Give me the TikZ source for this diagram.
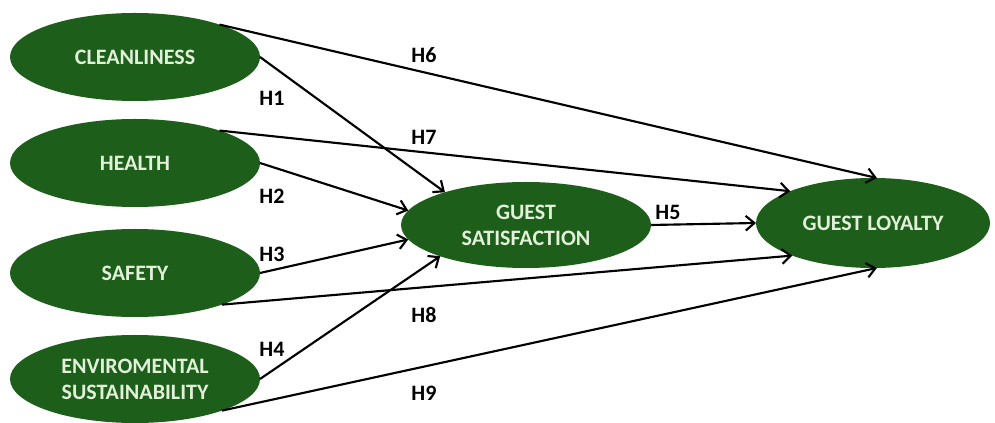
\documentclass[tikz,border=0pt]{standalone}
\usepackage{fontspec}
\setmainfont{Carlito}
\usetikzlibrary{shapes.geometric, arrows.meta}
\definecolor{construct}{RGB}{28, 94, 26}
\definecolor{constructtext}{RGB}{226, 240, 217}

\begin{document}
\begin{tikzpicture}[
		x=0.75pt, y=-0.75pt,
		latent/.style={ellipse, fill=construct, text=constructtext, font=\fontsize{16.5}{19.5}\selectfont\bfseries, align=center, inner sep=0pt, outer sep=0pt, minimum width=187.5pt, minimum height=66pt},
		hyp/.style={font=\fontsize{16.5}{19}\selectfont\bfseries, inner sep=0pt},
		link/.style={line width=1.6pt, -{Straight Barb[length=6.5pt, width=11pt]}}
		]
		\fill[white] (0,0) rectangle (995,418);
		
		% Antecedents
		\node[latent] (clean) at (135,57) {CLEANLINESS};
		\node[latent] (health) at (135,163) {HEALTH};
		\node[latent] (safety) at (135,273) {SAFETY};
		\node[latent] (env) at (135,379) {ENVIROMENTAL\\SUSTAINABILITY};
		
		% Outcomes
		\node[latent, minimum height=64.5pt] (sat) at (526,225) {GUEST\\SATISFACTION};
		\node[latent, minimum width=175.5pt, minimum height=67.5pt] (loyal) at (873,223) {GUEST LOYALTY};
		
		% Paths to satisfaction
		\draw[link] (clean.east) -- (sat.158);
		\draw[link] (health.east) -- (sat.173);
		\draw[link] (safety.east) -- (sat.187);
		\draw[link] (env.east) -- (sat.200);
		\draw[link] (sat.east) -- (loyal.west);
		
		% Paths to loyalty
		\draw[link] (clean.21) -- (loyal.85);
		\draw[link] (health.21) -- (loyal.159);
		\draw[link] (safety.-20) -- (loyal.202);
		\draw[link] (env.-20) -- (loyal.275);
		
		% Hypotheses
		\node[hyp] (h1) at (272,98) {H1};
		\node[hyp] (h2) at (272,196) {H2};
		\node[hyp] (h3) at (272,254) {H3};
		\node[hyp] (h4) at (272,349) {H4};
		\node[hyp] (h5) at (668,212) {H5};
		\node[hyp] (h6) at (424,55) {H6};
		\node[hyp] (h7) at (424,137) {H7};
		\node[hyp] (h8) at (424,315) {H8};
		\node[hyp] (h9) at (424,393) {H9};
	\end{tikzpicture}
\end{document}
